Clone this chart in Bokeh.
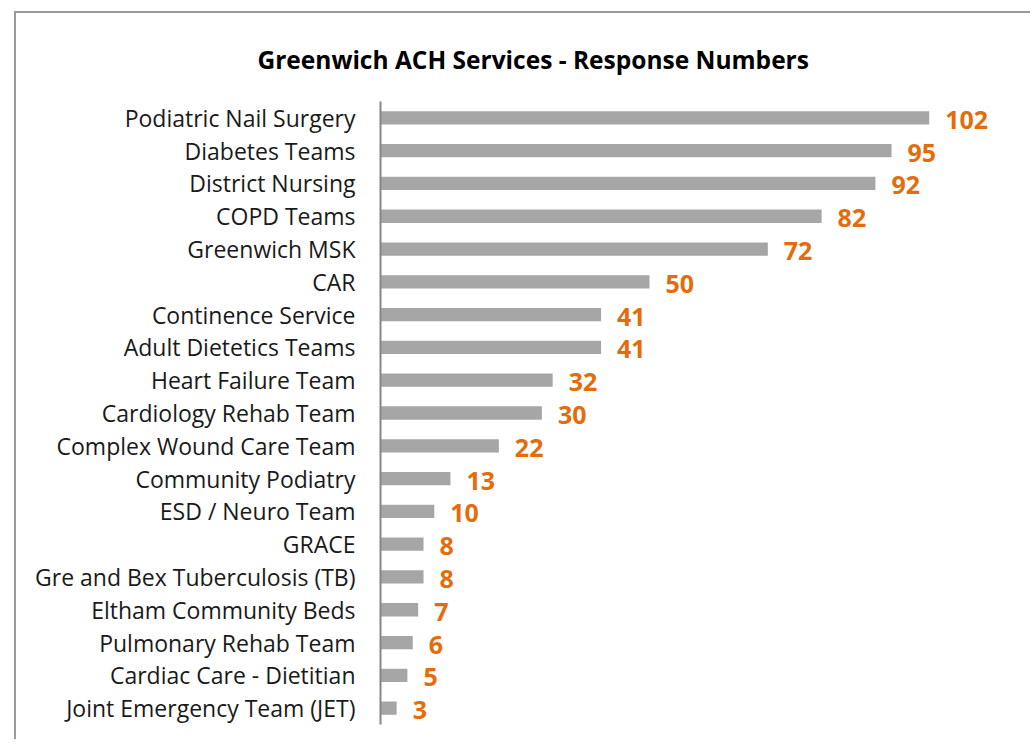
from bokeh.plotting import figure
from bokeh.models import ColumnDataSource, FactorRange, Range1d
from bokeh.core.properties import value
from bokeh.embed import file_html
from bokeh.resources import INLINE

categories = [
    "Podiatric Nail Surgery", "Diabetes Teams", "District Nursing", "COPD Teams",
    "Greenwich MSK", "CAR", "Continence Service", "Adult Dietetics Teams",
    "Heart Failure Team", "Cardiology Rehab Team", "Complex Wound Care Team",
    "Community Podiatry", "ESD / Neuro Team", "GRACE", "Gre and Bex Tuberculosis (TB)",
    "Eltham Community Beds", "Pulmonary Rehab Team", "Cardiac Care - Dietitian",
    "Joint Emergency Team (JET)",
]
responses = [102, 95, 92, 82, 72, 50, 41, 41, 32, 30, 22, 13, 10, 8, 8, 7, 6, 5, 3]
title_text = "Greenwich ACH Services - Response Numbers"

source = ColumnDataSource(dict(cat=categories, val=responses,
                               lab=[str(v) for v in responses]))

p = figure(width=1016, height=728, output_backend="svg", toolbar_location=None,
           y_range=FactorRange(factors=list(reversed(categories)), range_padding=0),
           x_range=Range1d(0, 121.2),
           min_border_left=364, min_border_right=0, min_border_top=88,
           min_border_bottom=17, title=title_text)
p.margin = (11, 0, 0, 14)
p.styles = {"border-left": "2px solid #9a9a9a", "border-top": "2px solid #9a9a9a"}

p.title.align = "left"
p.title.offset = -123
p.title.standoff = 52
p.title.text_font = "Open Sans"
p.title.text_font_style = "bold"
p.title.text_font_size = "24.5px"
p.title.text_color = "#000000"

p.hbar(y="cat", right="val", left=0, height=0.405, source=source,
       color="#a6a6a6", line_color=None)
p.text(x="val", y="cat", text="lab", source=source, x_offset=16, y_offset=2,
       text_align="left", text_baseline="middle", text_color="#e46c0a",
       text_font=value("Open Sans"), text_font_style="bold", text_font_size="25px")

p.xaxis.visible = False
p.xgrid.visible = False
p.ygrid.visible = False
p.outline_line_color = None
yax = p.yaxis[0]
yax.axis_line_color = "#868686"
yax.axis_line_width = 2
yax.major_tick_line_color = None
yax.minor_tick_line_color = None
yax.major_label_standoff = 19
yax.major_label_text_font = "Open Sans"
yax.major_label_text_font_size = "23px"
yax.major_label_text_color = "#1a1a1a"

open("out.html", "w").write(file_html(p, INLINE))
